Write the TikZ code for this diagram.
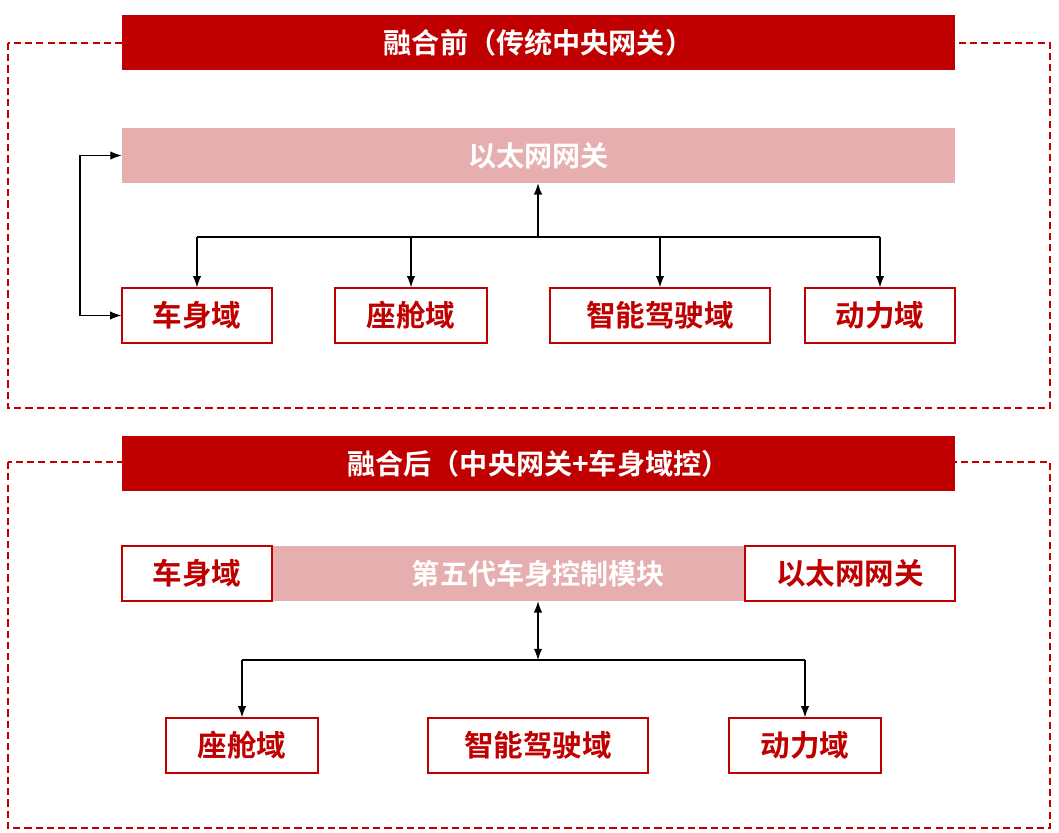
\documentclass[tikz,border=0pt]{standalone}
\usepackage{fontspec}
\setmainfont{Noto Sans CJK SC}[BoldFont={Noto Sans CJK SC Bold}]
\usetikzlibrary{arrows.meta,calc,positioning}
\definecolor{darkred}{RGB}{192, 0, 0}
\definecolor{lightred}{RGB}{230, 174, 174}
\tikzstyle{arrow} = [
  -{Latex[length=8pt,width=6pt]},
  line width=0.8pt,
  black,
]
\begin{document}
\begin{tikzpicture}[x=0.025cm, y=-0.025cm,
    banner/.style={fill=darkred, text=white, font=\bfseries\fontsize{20}{20}\selectfont,
                   minimum width=20.825cm, minimum height=1.375cm, inner sep=0},
    bar/.style={fill=lightred, text=white, font=\bfseries\fontsize{20}{20}\selectfont,
                minimum height=1.375cm, inner sep=0},
    box/.style={draw=darkred, line width=1pt, fill=white, text=darkred,
                font=\bfseries\fontsize{21}{21}\selectfont,
                minimum width=3.75cm, minimum height=1.375cm, inner sep=0},
    frame/.style={draw=darkred, dash pattern=on 5pt off 3pt, line width=1pt}]
    \useasboundingbox (0,0) rectangle (1059,833);
    % before
    \draw [frame] (8,43) rectangle (1050,408);
    \node [banner] (before) at (538.5,42.5) {融合前（传统中央网关）};
    \node [bar, minimum width=20.825cm] (gw) at (538.5,155.5) {以太网网关};
    \node [box] (body) at (197,315.5) {车身域};
    \node [box, minimum width=3.8cm] (cabin) at (411,315.5) {座舱域};
    \node [box, minimum width=5.5cm] (adas) at (660,315.5) {智能驾驶域};
    \node [box] (power) at (880,315.5) {动力域};
    \coordinate (bus) at (538,237);
    \draw [arrow] (bus) -- (bus |- gw.south);
    \draw [line width=0.8pt] (body.north |- bus) -- (power.north |- bus);
    \foreach \n in {body, cabin, adas, power}
      \draw [arrow] (\n.north |- bus) -- (\n.north);
    \coordinate (loop) at (80,237);
    \draw [arrow] (loop |- body.west) -- (loop |- gw.west) -- (gw.west);
    \draw [arrow] (loop |- gw.west) -- (loop |- body.west) -- (body.west);
    % after
    \draw [frame] (8,462) rectangle (1050,828);
    \node [banner] (after) at (538.5,463.5) {融合后（中央网关+车身域控）};
    \node [bar, minimum width=11.825cm] (bcm) at (508.5,573.5)
          {\hspace*{1.5cm}第五代车身控制模块};
    \node [box] (body2) at (197,573.5) {车身域};
    \node [box, minimum width=5.25cm] (gw2) at (850,573.5) {以太网网关};
    \node [box, minimum width=3.8cm] (cabin2) at (242,745.5) {座舱域};
    \node [box, minimum width=5.5cm] (adas2) at (538,745.5) {智能驾驶域};
    \node [box, minimum width=3.8cm] (power2) at (805,745.5) {动力域};
    \coordinate (bus2) at (538,660);
    \draw [arrow, {Latex[length=8pt,width=6pt]}-{Latex[length=8pt,width=6pt]}]
          (bus2) -- (bus2 |- bcm.south);
    \draw [line width=0.8pt] (cabin2.north |- bus2) -- (power2.north |- bus2);
    \foreach \n in {cabin2, power2}
      \draw [arrow] (\n.north |- bus2) -- (\n.north);
  \end{tikzpicture}
\end{document}
